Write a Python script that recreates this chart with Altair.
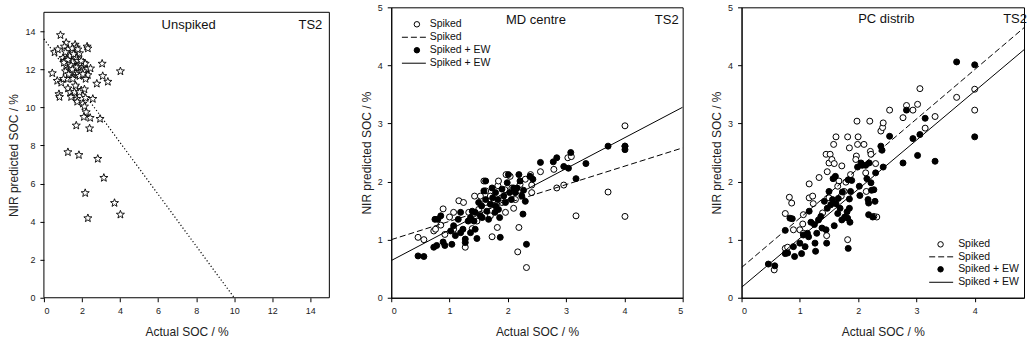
import math
import altair as alt
import pandas as pd

FONT = "Liberation Sans"

# ---------------- Panel 1: Unspiked ----------------
un_x = [0.87, 0.56, 0.73, 0.44, 0.70, 0.91, 0.79, 0.82, 1.00, 1.08, 1.17, 1.08, 1.26, 1.43, 1.64, 1.70,
        1.49, 1.35, 1.87, 2.27, 2.31, 1.17, 1.14, 1.21, 1.03, 1.35, 1.52, 1.61, 1.70, 1.78, 1.84, 1.91,
        2.01, 2.08, 2.17, 2.26, 2.22, 2.31, 2.19, 2.45, 1.78, 1.70, 1.56, 1.43, 1.96, 2.08, 3.06, 3.09,
        3.36, 4.02, 2.78, 1.26, 1.38, 1.43, 1.61, 1.73, 1.75, 1.96, 2.13, 1.87, 2.19, 2.57, 2.05, 2.13,
        2.22, 2.10, 2.43, 2.95, 1.70, 2.40, 1.26, 1.84, 2.83, 3.15, 2.17, 3.71, 2.31, 4.02, 1.52, 1.26,
        1.87, 1.70, 1.43, 1.31, 1.96, 1.56, 1.78, 1.49, 1.05, 2.05, 1.66, 1.14]
un_y = [13.8, 12.9, 13.05, 11.8, 11.4, 11.3, 10.7, 10.55, 12.6, 12.45, 13.4, 13.2, 13.05, 12.9, 13.3, 13.15,
        13.1, 12.7, 12.85, 13.2, 13.1, 12.2, 11.9, 11.5, 11.5, 12.3, 12.4, 12.1, 12.6, 12.45, 12.2, 12.3,
        12.1, 12.35, 12.3, 12.0, 11.65, 11.7, 11.5, 12.05, 11.9, 11.75, 11.85, 11.9, 11.9, 11.9, 12.3, 11.65,
        11.35, 11.9, 11.25, 11.0, 10.8, 10.55, 10.8, 10.45, 10.3, 10.9, 10.95, 10.8, 10.5, 10.45, 10.2, 10.05,
        9.75, 9.5, 9.45, 9.4, 9.05, 8.9, 7.65, 7.5, 7.3, 6.3, 5.5, 4.98, 4.18, 4.37, 11.5, 12.5,
        11.65, 12.1, 12.2, 11.75, 12.45, 12.8, 13.05, 12.0, 12.35, 11.75, 11.15, 12.9]
un_line_x = [0, 10]
un_line_y = [13.6, 0]

# ---------------- Panel 2: MD centre ----------------
md_sp_x = [0.46, 0.56, 0.73, 0.76, 0.85, 0.89, 0.92, 1.00, 1.16, 1.24, 1.07, 1.27, 1.39, 1.47, 1.43, 1.53,
           1.59, 1.62, 1.70, 1.73, 1.82, 1.83, 1.90, 1.97, 2.04, 2.10, 2.19, 2.17, 2.32, 2.30, 2.41, 2.56,
           2.79, 2.84, 2.96, 3.03, 3.09, 3.17, 3.72, 4.01, 4.01, 4.01, 2.07, 1.95, 1.76, 2.41, 2.13, 2.21,
           2.39, 1.33, 1.50, 1.07, 1.96, 1.70, 1.89, 1.62, 1.84]
md_sp_y = [1.04, 1.00, 1.15, 1.18, 1.25, 1.53, 1.09, 1.39, 1.67, 1.64, 1.18, 0.87, 1.19, 1.32, 1.75, 1.75,
           2.01, 1.64, 1.75, 1.05, 1.21, 1.93, 1.64, 2.12, 2.09, 1.54, 1.21, 0.79, 0.52, 2.04, 1.81, 2.17,
           2.21, 1.89, 1.94, 2.41, 2.43, 1.41, 1.82, 2.96, 1.40, 2.61, 1.89, 1.86, 1.69, 1.94, 1.69, 1.95,
           2.12, 1.47, 1.52, 1.47, 1.47, 1.41, 1.72, 1.84, 2.01]
md_ew_x = [0.46, 0.56, 0.73, 0.78, 0.75, 0.80, 0.85, 0.92, 0.89, 1.02, 1.07, 1.10, 1.04, 1.15, 1.19, 1.23,
           1.27, 1.27, 1.32, 1.36, 1.39, 1.44, 1.42, 1.44, 1.47, 1.50, 1.55, 1.59, 1.62, 1.64, 1.67, 1.70,
           1.74, 1.78, 1.79, 1.83, 1.84, 1.86, 1.87, 1.90, 1.93, 1.99, 2.01, 2.03, 2.06, 2.10, 2.13, 2.16,
           2.19, 2.21, 2.24, 2.26, 2.30, 2.32, 2.38, 2.43, 2.56, 2.78, 2.84, 2.96, 3.04, 3.08, 3.17, 3.34,
           3.72, 4.01, 4.01, 2.27, 1.96, 1.79, 1.56, 1.62, 1.36, 1.19, 1.53, 1.73]
md_ew_y = [0.72, 0.71, 0.87, 0.90, 1.35, 1.35, 1.41, 0.90, 0.96, 1.15, 1.24, 1.07, 0.92, 1.35, 1.47, 1.18,
           1.01, 0.95, 1.32, 1.38, 1.49, 1.47, 1.32, 1.18, 1.02, 1.64, 1.58, 1.84, 1.69, 1.49, 1.35, 1.61,
           1.72, 1.47, 1.81, 1.69, 1.52, 1.38, 1.04, 1.87, 1.75, 1.98, 2.12, 1.81, 1.69, 1.89, 1.81, 1.89,
           2.12, 2.01, 1.75, 1.44, 1.66, 0.92, 2.09, 2.04, 2.33, 2.34, 2.41, 2.26, 2.23, 2.50, 2.05, 2.31,
           2.61, 2.61, 2.55, 1.85, 1.64, 1.58, 1.38, 2.01, 1.12, 1.12, 1.41, 1.89]
md_line_x = [0, 5]
md_sp_line_y = [1.0, 2.58]
md_ew_line_y = [0.64, 3.28]

# ---------------- Panel 3: PC distrib ----------------
pc_sp_x = [0.56, 0.75, 0.79, 0.75, 0.82, 0.86, 0.89, 1.00, 1.06, 1.05, 1.06, 1.16, 1.16, 1.22, 1.23, 1.33,
           1.39, 1.45, 1.47, 1.50, 1.52, 1.55, 1.59, 1.58, 1.62, 1.46, 1.67, 1.72, 1.76, 1.82, 1.85, 1.79,
           1.82, 1.87, 1.98, 2.00, 1.99, 2.10, 1.97, 1.96, 2.20, 2.21, 2.22, 2.14, 2.30, 2.32, 2.27, 2.39,
           2.42, 2.43, 2.54, 2.77, 2.83, 2.94, 3.02, 3.06, 3.15, 3.32, 3.69, 4.00, 4.00, 2.13, 1.71, 1.50,
           1.65]
pc_sp_y = [0.48, 0.85, 0.87, 1.45, 1.73, 1.63, 1.17, 1.17, 1.11, 1.27, 1.43, 1.96, 1.72, 1.75, 1.62, 2.07,
           1.46, 2.47, 2.17, 2.32, 2.47, 2.38, 2.31, 2.64, 2.77, 1.07, 2.01, 2.27, 1.83, 2.77, 2.58, 1.99,
           1.00, 2.12, 3.04, 2.77, 2.64, 2.64, 2.44, 2.38, 3.04, 2.52, 2.47, 1.83, 2.31, 1.39, 1.40, 2.87,
           2.93, 3.01, 3.23, 3.10, 3.31, 3.23, 3.33, 3.60, 2.92, 3.12, 3.45, 3.59, 3.23, 2.15, 1.75, 1.72,
           1.92]
pc_ew_x = [0.46, 0.57, 0.75, 0.75, 0.79, 0.83, 0.87, 0.89, 0.91, 1.00, 1.03, 1.06, 1.09, 1.13, 1.15, 1.16,
           1.19, 1.25, 1.26, 1.27, 1.29, 1.32, 1.36, 1.38, 1.42, 1.45, 1.46, 1.47, 1.50, 1.53, 1.56, 1.57,
           1.61, 1.62, 1.66, 1.59, 1.65, 1.69, 1.72, 1.73, 1.77, 1.81, 1.82, 1.83, 1.85, 1.85, 1.86, 1.83,
           1.87, 1.89, 1.99, 2.02, 2.03, 2.05, 2.07, 2.13, 2.15, 2.17, 2.18, 2.18, 2.19, 2.22, 2.23, 2.25,
           2.27, 2.29, 2.30, 2.39, 2.41, 2.43, 2.54, 2.77, 2.83, 2.94, 3.02, 3.06, 3.15, 3.32, 3.69, 4.00,
           4.00]
pc_ew_y = [0.58, 0.55, 1.16, 0.76, 0.77, 1.37, 1.36, 0.88, 0.71, 0.94, 0.76, 1.08, 0.88, 1.11, 1.05, 1.49,
           1.30, 1.26, 0.94, 0.80, 1.11, 1.34, 1.40, 1.20, 1.66, 1.17, 0.94, 1.54, 1.83, 1.60, 1.69, 2.05,
           2.09, 1.62, 1.71, 1.24, 1.45, 1.54, 1.34, 1.82, 1.39, 1.48, 1.37, 2.03, 1.54, 1.70, 1.30, 0.85,
           1.83, 2.02, 2.25, 1.92, 1.76, 2.32, 2.28, 2.28, 2.05, 1.69, 1.63, 1.43, 2.32, 1.98, 1.85, 1.39,
           1.86, 1.66, 2.15, 2.61, 2.54, 2.25, 2.78, 2.32, 3.23, 2.74, 2.45, 2.81, 3.09, 2.35, 4.06, 4.01,
           2.77]
pc_line_x = [0, 5]
pc_sp_line_y = [0.52, 4.78]
pc_ew_line_y = [0.18, 4.40]

legend_labels = ["Spiked", "Spiked", "Spiked + EW", "Spiked + EW"]

# ---------------- helpers ----------------
def star_path():
    pts = []
    for i in range(10):
        r = 1.0 if i % 2 == 0 else 0.42
        a = math.pi / 2 + i * math.pi / 5
        pts.append(f"{r * math.cos(a):.3f},{-r * math.sin(a):.3f}")
    return "M" + "L".join(pts) + "Z"


def text_layer(label, px, py, size=13, align="center"):
    return alt.Chart(pd.DataFrame({"t": [label]})).mark_text(
        font=FONT, fontSize=size, align=align, baseline="middle", color="#111"
    ).encode(x=alt.value(px), y=alt.value(py), text="t:N")


def legend_layers(cx, tx, lx1, lx2, rows):
    one = pd.DataFrame({"d": [0]})
    layers = []
    layers.append(alt.Chart(one).mark_point(shape="circle", size=30, fill="white", stroke="black",
                                            strokeWidth=1, opacity=1).encode(
        x=alt.value(cx), y=alt.value(rows[0])))
    layers.append(alt.Chart(one).mark_rule(color="black", strokeWidth=1, strokeDash=[6, 3]).encode(
        x=alt.value(lx1), x2=alt.value(lx2), y=alt.value(rows[1])))
    layers.append(alt.Chart(one).mark_point(shape="circle", size=30, fill="black", stroke="black",
                                            strokeWidth=1, opacity=1).encode(
        x=alt.value(cx), y=alt.value(rows[2])))
    layers.append(alt.Chart(one).mark_rule(color="black", strokeWidth=1).encode(
        x=alt.value(lx1), x2=alt.value(lx2), y=alt.value(rows[3])))
    for lab, ry in zip(legend_labels, rows):
        layers.append(text_layer(lab, tx, ry, size=10.5, align="left"))
    return layers


H = 291          # plot height of every panel
P1_F = 286       # panel-1 frame size (square)
P1_W = 289       # panel-1 layout width (frame + a little air)
P1_TOP = H - P1_F
P1_YMAX = 15 * H / P1_F
P1_XMAX = 15 * P1_W / P1_F

# ---------------- Panel 1 ----------------
X1 = alt.X("x1:Q", scale=alt.Scale(domain=[0, P1_XMAX], nice=False),
           axis=alt.Axis(values=list(range(0, 15, 2)), title="Actual SOC / %", domain=False,
                         titleX=P1_F / 2))
Y1 = alt.Y("y1:Q", scale=alt.Scale(domain=[0, P1_YMAX], nice=False),
           axis=alt.Axis(values=list(range(0, 15, 2)), title="NIR predicted SOC / %", domain=False,
                         titleY=P1_TOP + P1_F / 2))

p1_frame = alt.Chart(pd.DataFrame({"d": [0]})).mark_rect(
    fillOpacity=0, stroke="black", strokeWidth=1
).encode(x=alt.value(0), x2=alt.value(P1_F), y=alt.value(P1_TOP), y2=alt.value(H))
p1_pts = alt.Chart(pd.DataFrame({"x1": un_x, "y1": un_y})).mark_point(
    shape=star_path(), size=72, fill="white", stroke="black", strokeWidth=0.9, opacity=1
).encode(x=X1, y=Y1)
p1_line = alt.Chart(pd.DataFrame({"x1": un_line_x, "y1": un_line_y})).mark_line(
    color="black", strokeWidth=1.2, strokeDash=[1.2, 2.2]
).encode(x=X1, y=Y1)
panel1 = alt.layer(p1_line, p1_pts, p1_frame,
                   text_layer("Unspiked", 145, 17.5),
                   text_layer("TS2", 267, 17.5)).properties(
    width=P1_W, height=H, view=alt.ViewBackground(stroke=None))

# ---------------- Panel 2 ----------------
X2 = alt.X("x2:Q", scale=alt.Scale(domain=[0, 5], nice=False),
           axis=alt.Axis(values=[0, 1, 2, 3, 4, 5], title="Actual SOC / %"))
Y2 = alt.Y("y2:Q", scale=alt.Scale(domain=[0, 5], nice=False),
           axis=alt.Axis(values=[0, 1, 2, 3, 4, 5], title="NIR predicted SOC / %"))

p2_sp = alt.Chart(pd.DataFrame({"x2": md_sp_x, "y2": md_sp_y})).mark_point(
    shape="circle", size=36, fill="white", stroke="black", strokeWidth=1, opacity=1
).encode(x=X2, y=Y2)
p2_ew = alt.Chart(pd.DataFrame({"x2": md_ew_x, "y2": md_ew_y})).mark_point(
    shape="circle", size=36, fill="black", stroke="black", strokeWidth=1, opacity=1
).encode(x=X2, y=Y2)
p2_l1 = alt.Chart(pd.DataFrame({"x2": md_line_x, "y2": md_sp_line_y})).mark_line(
    color="black", strokeWidth=1, strokeDash=[6, 3], clip=True).encode(x=X2, y=Y2)
p2_l2 = alt.Chart(pd.DataFrame({"x2": md_line_x, "y2": md_ew_line_y})).mark_line(
    color="black", strokeWidth=1, clip=True).encode(x=X2, y=Y2)
panel2 = alt.layer(p2_sp, p2_ew, p2_l1, p2_l2,
                   text_layer("MD centre", 145, 12.5), text_layer("TS2", 276, 12.5),
                   *legend_layers(25.7, 38.5, 10.7, 34.7, [17, 30, 43, 56])
                   ).properties(width=292, height=H)

# ---------------- Panel 3 ----------------
P3_W = 283
X3 = alt.X("x3:Q", scale=alt.Scale(domain=[0, P3_W / 58.4], nice=False),
           axis=alt.Axis(values=[0, 1, 2, 3, 4], title="Actual SOC / %"))
Y3 = alt.Y("y3:Q", scale=alt.Scale(domain=[0, 5], nice=False),
           axis=alt.Axis(values=[0, 1, 2, 3, 4, 5], title="NIR predicted SOC / %"))

p3_sp = alt.Chart(pd.DataFrame({"x3": pc_sp_x, "y3": pc_sp_y})).mark_point(
    shape="circle", size=36, fill="white", stroke="black", strokeWidth=1, opacity=1
).encode(x=X3, y=Y3)
p3_ew = alt.Chart(pd.DataFrame({"x3": pc_ew_x, "y3": pc_ew_y})).mark_point(
    shape="circle", size=36, fill="black", stroke="black", strokeWidth=1, opacity=1
).encode(x=X3, y=Y3)
p3_l1 = alt.Chart(pd.DataFrame({"x3": pc_line_x, "y3": pc_sp_line_y})).mark_line(
    color="black", strokeWidth=1, strokeDash=[6, 3], clip=True).encode(x=X3, y=Y3)
p3_l2 = alt.Chart(pd.DataFrame({"x3": pc_line_x, "y3": pc_ew_line_y})).mark_line(
    color="black", strokeWidth=1, clip=True).encode(x=X3, y=Y3)
panel3 = alt.layer(p3_sp, p3_ew, p3_l1, p3_l2,
                   text_layer("PC distrib", 145, 11.8), text_layer("TS2", 274, 11.8),
                   *legend_layers(199.4, 217, 188, 212, [237.5, 250, 262.5, 275.5])
                   ).properties(width=P3_W, height=H)

chart = alt.hconcat(panel1, panel2, panel3, spacing=59, bounds="flush").resolve_scale(
    x="independent", y="independent"
).properties(
    padding={"left": 7, "top": 2, "right": 0, "bottom": 0},
    background="white",
).configure_view(
    stroke="black", strokeWidth=1
).configure_axis(
    grid=False, domainColor="black", domainWidth=1, tickColor="black", tickSize=4, tickWidth=1,
    labelFont=FONT, labelFontSize=9, labelColor="#222", labelPadding=5,
    titleFont=FONT, titleFontSize=12, titleFontWeight="normal", titleColor="#222",
).configure_axisX(titlePadding=11).configure_axisY(titlePadding=4)

chart.save("out.html", embed_options={"renderer": "svg", "actions": False})
